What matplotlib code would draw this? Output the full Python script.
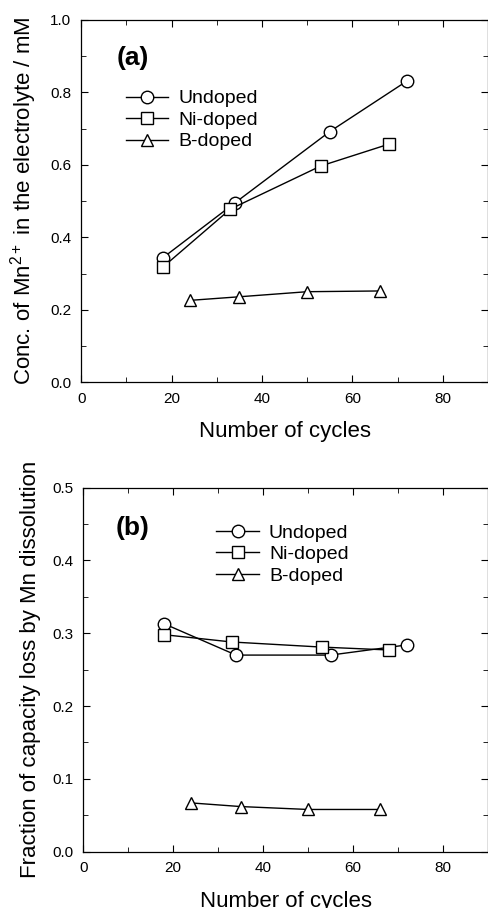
import matplotlib.pyplot as plt
from matplotlib.ticker import MultipleLocator

plt.rcParams['font.family'] = ['Liberation Sans', 'DejaVu Sans']
plt.rcParams['mathtext.fontset'] = 'custom'
plt.rcParams['mathtext.rm'] = 'Liberation Sans'

# panel (a): Mn2+ concentration
und_x_a = [18, 34, 55, 72]
und_y_a = [0.343, 0.495, 0.692, 0.831]
ni_x_a = [18, 33, 53, 68]
ni_y_a = [0.317, 0.478, 0.597, 0.657]
b_x_a = [24, 35, 50, 66]
b_y_a = [0.226, 0.236, 0.250, 0.252]

# panel (b): fraction of capacity loss
und_x_b = [18, 34, 55, 72]
und_y_b = [0.313, 0.270, 0.270, 0.284]
ni_x_b = [18, 33, 53, 68]
ni_y_b = [0.298, 0.288, 0.281, 0.277]
b_x_b = [24, 35, 50, 66]
b_y_b = [0.067, 0.062, 0.058, 0.058]

labels = ['Undoped', 'Ni-doped', 'B-doped']
markers = ['o', 's', '^']

fig = plt.figure(figsize=(4.89, 9.08), dpi=100)
ax1 = fig.add_axes([0.166, 0.579, 0.832, 0.399])
ax2 = fig.add_axes([0.170, 0.062, 0.828, 0.401])


def style(ax, ymax, ystep):
    ax.set_xlim(0, 90)
    ax.set_ylim(0, ymax)
    ax.xaxis.set_major_locator(MultipleLocator(20))
    ax.xaxis.set_minor_locator(MultipleLocator(10))
    ax.yaxis.set_major_locator(MultipleLocator(ystep))
    ax.yaxis.set_minor_locator(MultipleLocator(ystep / 2))
    ax.tick_params(which='both', direction='in', top=True, right=True, labelsize=11, pad=7)
    ax.tick_params(which='major', length=5)
    ax.tick_params(which='minor', length=3.5)
    ax.xaxis.set_major_formatter(plt.FuncFormatter(lambda v, p: '%d' % v))
    ax.yaxis.set_major_formatter(plt.FuncFormatter(lambda v, p: '%.1f' % v))
    for s in ax.spines.values():
        s.set_linewidth(0.9)
    ax.set_xlabel('Number of cycles', fontsize=16, labelpad=11)


data_a = [(und_x_a, und_y_a), (ni_x_a, ni_y_a), (b_x_a, b_y_a)]
data_b = [(und_x_b, und_y_b), (ni_x_b, ni_y_b), (b_x_b, b_y_b)]

for (x, y), m, lab in zip(data_a, markers, labels):
    ax1.plot(x, y, color='black', lw=1, marker=m, ms=9 if m == 'o' else 8,
             mfc='white', mec='black', mew=1, label=lab)
for (x, y), m, lab in zip(data_b, markers, labels):
    ax2.plot(x, y, color='black', lw=1, marker=m, ms=9 if m == 'o' else 8,
             mfc='white', mec='black', mew=1, label=lab)

style(ax1, 1.0, 0.2)
style(ax2, 0.5, 0.1)

ax1.set_ylabel('Conc. of Mn$^{2+}$ in the electrolyte / mM', fontsize=16, labelpad=8)
ax2.set_ylabel('Fraction of capacity loss by Mn dissolution', fontsize=16, labelpad=8)

ax1.text(0.128, 0.895, '(a)', transform=ax1.transAxes, fontsize=19,
         fontweight='bold', ha='center', va='center')
ax2.text(0.123, 0.89, '(b)', transform=ax2.transAxes, fontsize=19,
         fontweight='bold', ha='center', va='center')

ax1.legend(loc='upper left', bbox_to_anchor=(0.09, 0.829), frameon=False, fontsize=14,
           handlelength=2.2, handletextpad=0.5, labelspacing=0.2, borderaxespad=0)
ax2.legend(loc='upper left', bbox_to_anchor=(0.31, 0.921), frameon=False, fontsize=14,
           handlelength=2.2, handletextpad=0.5, labelspacing=0.2, borderaxespad=0)

fig.savefig('out.png', dpi=100)
